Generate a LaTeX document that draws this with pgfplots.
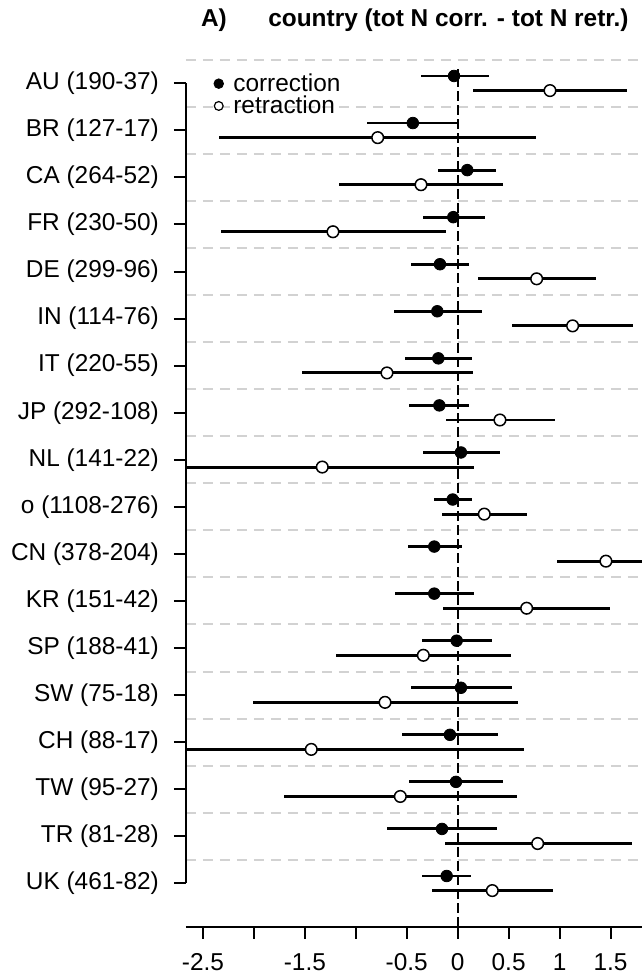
\documentclass[border=0pt]{standalone}
\usepackage{fontspec}
\setmainfont{Liberation Sans}
\usepackage{pgfplots}
\usepackage{pgfplotstable}
\pgfplotsset{compat=1.18}

% row: 18 = AU (top) ... 1 = UK (bottom); estimate, lower, upper
\pgfplotstableread{
row x lo hi
18 -0.036 -0.363 0.304
17 -0.440 -0.893 0.006
16 0.094 -0.190 0.376
15 -0.043 -0.343 0.268
14 -0.174 -0.458 0.114
13 -0.200 -0.625 0.235
12 -0.190 -0.517 0.140
11 -0.180 -0.478 0.114
10 0.032 -0.343 0.415
9 -0.049 -0.230 0.137
8 -0.230 -0.491 0.039
7 -0.230 -0.615 0.160
6 -0.010 -0.347 0.340
5 0.032 -0.461 0.533
4 -0.076 -0.550 0.399
3 -0.017 -0.478 0.448
2 -0.154 -0.690 0.382
1 -0.108 -0.353 0.131
}\corr

\pgfplotstableread{
row x lo hi
18 0.906 0.153 1.658
17 -0.785 -2.340 0.768
16 -0.360 -1.165 0.441
15 -1.224 -2.323 -0.118
14 0.775 0.202 1.357
13 1.128 0.536 1.723
12 -0.694 -1.531 0.153
11 0.415 -0.115 0.955
10 -1.329 -2.667 0.160
9 0.261 -0.151 0.677
8 1.455 0.978 1.950
7 0.677 -0.147 1.495
6 -0.337 -1.197 0.523
5 -0.713 -2.012 0.589
4 -1.437 -2.667 0.651
3 -0.563 -1.700 0.579
2 0.785 -0.121 1.707
1 0.340 -0.255 0.932
}\retr

\newcommand{\lbl}{\fontsize{12.2}{14}\selectfont}

\begin{document}
\begin{tikzpicture}
\begin{axis}[
    scale only axis,
    width=232.5pt, height=433.4pt,
    xmin=-2.667, xmax=1.897,
    ymin=0.08, ymax=18.5,
    clip=false,
    axis x line*=bottom,
    axis y line*=left,
    y axis line style={draw=none},
    x axis line style={line width=1pt},
    tick align=outside,
    major tick length=6pt,
    every tick/.style={black, line width=1pt},
    xtick={-2.5,-2,-1.5,-1,-0.5,0,0.5,1,1.5},
    xticklabels={-2.5,,-1.5,,-0.5,0,0.5,1,1.5},
    ytick={1,...,18},
    yticklabels={UK (461-82),TR (81-28),TW (95-27),CH (88-17),SW (75-18),SP (188-41),KR (151-42),CN (378-204),o (1108-276),NL (141-22),JP (292-108),IT (220-55),IN (114-76),DE (299-96),FR (230-50),CA (264-52),BR (127-17),AU (190-37)},
    minor ytick={1.5,2.5,...,18.5},
    yminorgrids,
    minor tick length=0pt,
    minor grid style={gray!35, line width=1pt, dash pattern=on 5pt off 3.5pt},
    ticklabel style={font=\lbl},
    yticklabel style={xshift=-4pt},
    xticklabel style={yshift=-4pt},
    legend style={draw=none, fill=none, at={(axis cs:-2.40,18.22)}, anchor=north west,
        font=\lbl, row sep=0.8pt, column sep=4.7pt, inner sep=0pt, nodes={inner sep=0pt}},
    legend cell align=left,
]
\addplot[only marks, mark=*, mark size=2.9pt, black,
    legend image code/.code={\fill[black] (0pt,0pt) circle (2.4pt);},
    error bars/.cd, x dir=both, x explicit, error mark=none,
    error bar style={line width=1.45pt, black}]
    table[x=x, y expr=\thisrow{row}+0.155,
          x error plus expr=\thisrow{hi}-\thisrow{x},
          x error minus expr=\thisrow{x}-\thisrow{lo}] {\corr};
\addlegendentry{correction}
\addplot[only marks, mark=*, mark size=2.9pt, black,
    mark options={fill=white, draw=black, line width=0.75pt},
    legend image code/.code={\draw[black, fill=white, line width=0.6pt] (0pt,0pt) circle (2.2pt);},
    error bars/.cd, x dir=both, x explicit, error mark=none,
    error bar style={line width=1.45pt, black}]
    table[x=x, y expr=\thisrow{row}-0.155,
          x error plus expr=\thisrow{hi}-\thisrow{x},
          x error minus expr=\thisrow{x}-\thisrow{lo}] {\retr};
\addlegendentry{retraction}
\draw[black, line width=1.15pt, dash pattern=on 4.7pt off 2.3pt] (axis cs:0,0.08) -- (axis cs:0,18.3);
\draw[black, line width=1pt] (axis cs:-2.667,1) -- (axis cs:-2.667,18);
\node[anchor=base west, inner sep=0pt, font=\bfseries\lbl] at (axis cs:-2.522,19.203) {A)};
\node[anchor=base west, inner sep=0pt, font=\bfseries\lbl] at (axis cs:-1.862,19.203) {country (tot N corr. - tot N retr.)};
\coordinate (bbA) at (axis cs:-4.492,-0.97);
\coordinate (bbB) at (axis cs:1.809,19.77);
\end{axis}
\pgfresetboundingbox
\path[use as bounding box] (bbA) rectangle (bbB);
\end{tikzpicture}
\end{document}
